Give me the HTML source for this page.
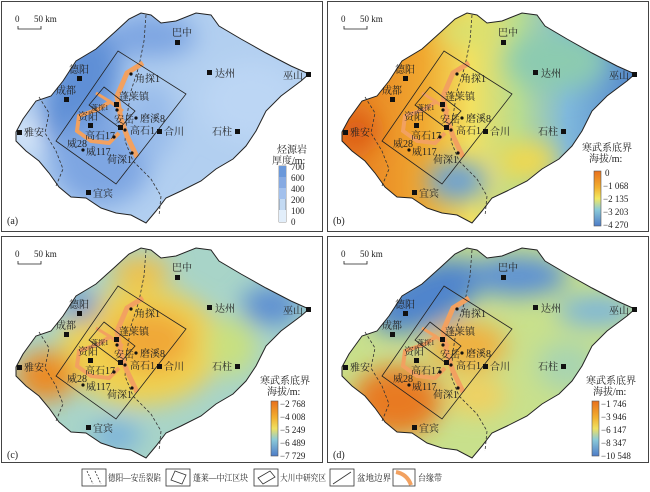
<!DOCTYPE html><html><head><meta charset="utf-8"><style>body{margin:0;background:#fff}svg{display:block}text{font-family:"Liberation Serif","Noto Serif CJK SC",serif;fill:#222}</style></head><body>
<svg width="650" height="492" viewBox="0 0 650 492" xmlns="http://www.w3.org/2000/svg">
<defs>
<path id="basin" d="M15,131 L22,118 L35,100 L50,95 L62,80 L75,60 L95,48 L115,30 L128,18 L140,12 L150,14 L160,22 L175,20 L195,12 L210,14 L218,25 L240,38 L265,52 L290,65 L308,73 L300,80 L280,95 L265,110 L255,130 L245,145 L232,158 L215,168 L200,180 L180,190 L165,197 L155,210 L145,222 L130,214 L115,212 L100,207 L85,197 L70,196 L58,186 L48,172 L38,160 L25,150 L15,140 Z"/>
<clipPath id="cb"><use href="#basin"/></clipPath>
<filter id="bl" x="-50%" y="-50%" width="200%" height="200%"><feGaussianBlur stdDeviation="12"/></filter>
<g id="ov">
<path d="M145,14 L143,40 L138,65 L130,90 L126,115 L124,140 L132,160 L150,178 L160,195 L158,215" fill="none" stroke="#333" stroke-width="0.8" stroke-dasharray="3,2"/>
<path d="M38,96 L48,112 L44,132 L55,150 L62,168 L55,185" fill="none" stroke="#333" stroke-width="0.8" stroke-dasharray="3,2"/>
<path d="M142,62 L126,72 L116,95 L120,118 L126,135 L136,156" fill="none" stroke="#f2a160" stroke-width="5"/>
<path d="M95,92 L108,100 L122,110" fill="none" stroke="#f2a160" stroke-width="3"/>
<path d="M110,100 L98,108 L78,115 L76,130 L90,140 L108,142 L118,132" fill="none" stroke="#f2a160" stroke-width="4"/>
<path d="M117,50 L185,93 L115,183 L55,140 Z" fill="none" stroke="#222" stroke-width="0.8"/>
<path d="M103,86 L134,110 L119,127 L88,104 Z" fill="none" stroke="#222" stroke-width="0.8"/>
<use href="#basin" fill="none" stroke="#222" stroke-width="1"/>
<g fill="#111"><rect x="174" y="39" width="5" height="5"/><rect x="206" y="69" width="5" height="5"/><rect x="305" y="71" width="5" height="5"/><rect x="76" y="75" width="5" height="5"/><rect x="63" y="96" width="5" height="5"/><rect x="16" y="129" width="5" height="5"/><rect x="87" y="122" width="5" height="5"/><rect x="85" y="189" width="5" height="5"/><rect x="156" y="128" width="5" height="5"/><rect x="234" y="128" width="5" height="5"/><rect x="113" y="101" width="5" height="5"/><rect x="117" y="124" width="5" height="5"/>
<circle cx="130" cy="73" r="1.6"/><circle cx="116" cy="109" r="1.6"/><circle cx="135" cy="117" r="1.6"/><circle cx="124" cy="129" r="1.6"/><circle cx="113" cy="136" r="1.6"/><circle cx="82" cy="149" r="1.6"/><circle cx="131" cy="152" r="1.6"/></g>
<path d="M17,25 L17,28 L40,28 L40,25" fill="none" stroke="#222" stroke-width="0.8"/>
</g>
<linearGradient id="gb" x1="0" y1="0" x2="1" y2="0"><stop offset="0" stop-color="#e4701c"/><stop offset="0.3" stop-color="#f0a830"/><stop offset="0.45" stop-color="#f2e060"/><stop offset="0.6" stop-color="#b8dc90"/><stop offset="0.75" stop-color="#7fb8dc"/><stop offset="1" stop-color="#4d80c8"/></linearGradient>
<linearGradient id="cbar1" x1="0" y1="0" x2="0" y2="1"><stop offset="0" stop-color="#e8701c"/><stop offset="0.3" stop-color="#f2b030"/><stop offset="0.5" stop-color="#f2e860"/><stop offset="0.7" stop-color="#8ccbd8"/><stop offset="1" stop-color="#4d7cc8"/></linearGradient>
<linearGradient id="cbar2" x1="0" y1="0" x2="0" y2="1"><stop offset="0" stop-color="#e8701c"/><stop offset="0.3" stop-color="#f2b030"/><stop offset="0.5" stop-color="#f0e060"/><stop offset="0.7" stop-color="#8ccbd8"/><stop offset="1" stop-color="#4d7cc8"/></linearGradient>
</defs>
<rect x="1.5" y="1.5" width="321" height="230" fill="none" stroke="#444"/>
<rect x="327.5" y="1.5" width="321" height="230" fill="none" stroke="#444"/>
<rect x="1.5" y="236.5" width="321" height="226" fill="none" stroke="#444"/>
<rect x="327.5" y="236.5" width="321" height="226" fill="none" stroke="#444"/>

<!-- panel a -->
<g transform="translate(1,1)">
<g clip-path="url(#cb)"><rect width="320" height="230" fill="#b2cff0"/>
<g filter="url(#bl)"><ellipse cx="80" cy="90" rx="35" ry="65" fill="#5f8fd6" transform="rotate(20 80 90)"/><ellipse cx="100" cy="160" rx="50" ry="45" fill="#7ea6e2"/><ellipse cx="150" cy="35" rx="45" ry="22" fill="#7ea6e2"/><ellipse cx="25" cy="135" rx="15" ry="20" fill="#dceafa"/><ellipse cx="150" cy="120" rx="25" ry="40" fill="#98bbea"/><ellipse cx="250" cy="100" rx="50" ry="40" fill="#bcd6f4"/></g></g>
<use href="#ov"/>
<text x="14" y="21" font-size="9">0</text><text x="33" y="21" font-size="9">50 km</text>
<g font-size="10"><text x="171" y="35">巴中</text><text x="214" y="76">达州</text><text x="282" y="78">巫山</text><text x="68" y="72">德阳</text><text x="55" y="93">成都</text><text x="23" y="135">雅安</text><text x="77" y="119">资阳</text><text x="92" y="196">宜宾</text><text x="163" y="134">合川</text><text x="211" y="134">石柱</text><text x="118" y="99">蓬莱镇</text><text x="113" y="122">安岳</text><text x="134" y="81">角探1</text><text x="139" y="121">磨溪8</text><text x="129" y="133">高石1</text><text x="84" y="138">高石17</text><text x="66" y="146">威28</text><text x="85" y="154">威117</text><text x="106" y="162">荷深1</text></g>
<text x="90" y="109" font-size="7">蓬探1</text>
<text x="276" y="152" font-size="10">烃源岩</text><text x="271" y="163" font-size="10">厚度/m:</text>
<rect x="278" y="165" width="7" height="56" fill="#c3daf3" stroke="#555" stroke-width="0.6"/><rect x="278" y="165" width="7" height="11" fill="#6a98da"/><rect x="278" y="176" width="7" height="11" fill="#86aae2"/><rect x="278" y="187" width="7" height="11" fill="#a2c0ec"/><rect x="278" y="209" width="7" height="12" fill="#e2eefa"/>
<g font-size="9"><text x="290" y="169">700</text><text x="290" y="180">600</text><text x="290" y="191">400</text><text x="290" y="202">200</text><text x="290" y="213">100</text><text x="290" y="224">0</text></g>
<text x="6" y="223" font-size="10">(a)</text>
</g>

<!-- panel b -->
<g transform="translate(327,1)">
<g clip-path="url(#cb)"><rect width="320" height="230" fill="url(#gb)"/>
<g filter="url(#bl)"><ellipse cx="200" cy="160" rx="30" ry="20" fill="#f0d850"/><ellipse cx="140" cy="30" rx="30" ry="15" fill="#d8e070"/><ellipse cx="230" cy="60" rx="50" ry="30" fill="#8ccbb0"/><ellipse cx="30" cy="130" rx="20" ry="20" fill="#dc5a14"/><ellipse cx="130" cy="180" rx="30" ry="20" fill="#6aa0d4"/></g></g>
<use href="#ov"/>
<text x="14" y="21" font-size="9">0</text><text x="33" y="21" font-size="9">50 km</text>
<g font-size="10"><text x="171" y="35">巴中</text><text x="214" y="76">达州</text><text x="282" y="78">巫山</text><text x="68" y="72">德阳</text><text x="55" y="93">成都</text><text x="23" y="135">雅安</text><text x="77" y="119">资阳</text><text x="92" y="196">宜宾</text><text x="163" y="134">合川</text><text x="211" y="134">石柱</text><text x="118" y="99">蓬莱镇</text><text x="113" y="122">安岳</text><text x="134" y="81">角探1</text><text x="139" y="121">磨溪8</text><text x="129" y="133">高石1</text><text x="84" y="138">高石17</text><text x="66" y="146">威28</text><text x="85" y="154">威117</text><text x="106" y="162">荷深1</text></g>
<text x="90" y="109" font-size="7">蓬探1</text>
<text x="255" y="150" font-size="10">寒武系底界</text><text x="262" y="161" font-size="10">海拔/m:</text>
<rect x="267" y="170" width="7" height="55" fill="url(#cbar1)" stroke="#555" stroke-width="0.6"/>
<g font-size="9"><text x="278" y="175">0</text><text x="276" y="188">−1 068</text><text x="276" y="201">−2 135</text><text x="276" y="214">−3 203</text><text x="276" y="227">−4 270</text></g>
<text x="6" y="223" font-size="10">(b)</text>
</g>

<!-- panel c -->
<g transform="translate(1,236)">
<g clip-path="url(#cb)"><rect width="320" height="230" fill="#a8d4c8"/>
<g filter="url(#bl)"><ellipse cx="140" cy="110" rx="80" ry="60" fill="#f0d050"/><ellipse cx="150" cy="105" rx="40" ry="30" fill="#f0a838"/><ellipse cx="45" cy="140" rx="30" ry="25" fill="#ec8a22"/><ellipse cx="80" cy="70" rx="18" ry="14" fill="#5a8ed2"/><ellipse cx="270" cy="70" rx="30" ry="20" fill="#5d8fd2"/><ellipse cx="115" cy="200" rx="25" ry="15" fill="#78b0dc"/><ellipse cx="140" cy="35" rx="30" ry="15" fill="#f0c048"/><ellipse cx="230" cy="110" rx="25" ry="30" fill="#c8e080"/></g></g>
<use href="#ov"/>
<text x="14" y="21" font-size="9">0</text><text x="33" y="21" font-size="9">50 km</text>
<g font-size="10"><text x="171" y="35">巴中</text><text x="214" y="76">达州</text><text x="282" y="78">巫山</text><text x="68" y="72">德阳</text><text x="55" y="93">成都</text><text x="23" y="135">雅安</text><text x="77" y="119">资阳</text><text x="92" y="196">宜宾</text><text x="163" y="134">合川</text><text x="211" y="134">石柱</text><text x="118" y="99">蓬莱镇</text><text x="113" y="122">安岳</text><text x="134" y="81">角探1</text><text x="139" y="121">磨溪8</text><text x="129" y="133">高石1</text><text x="84" y="138">高石17</text><text x="66" y="146">威28</text><text x="85" y="154">威117</text><text x="106" y="162">荷深1</text></g>
<text x="90" y="109" font-size="7">蓬探1</text>
<text x="259" y="148" font-size="10">寒武系底界</text><text x="266" y="159" font-size="10">海拔/m:</text>
<rect x="270" y="165" width="7" height="55" fill="url(#cbar2)" stroke="#555" stroke-width="0.6"/>
<g font-size="9"><text x="279" y="171">−2 768</text><text x="279" y="184">−4 008</text><text x="279" y="197">−5 249</text><text x="279" y="210">−6 489</text><text x="279" y="223">−7 729</text></g>
<text x="6" y="222" font-size="10">(c)</text>
</g>

<!-- panel d -->
<g transform="translate(327,236)">
<g clip-path="url(#cb)"><rect width="320" height="230" fill="#c8e08c"/>
<g filter="url(#bl)"><ellipse cx="100" cy="60" rx="60" ry="30" fill="#4f84cc" transform="rotate(-25 100 60)"/><ellipse cx="190" cy="40" rx="50" ry="20" fill="#5c90d4"/><ellipse cx="270" cy="75" rx="40" ry="15" fill="#7ab4dc"/><ellipse cx="70" cy="165" rx="45" ry="35" fill="#e87a22"/><ellipse cx="140" cy="110" rx="40" ry="25" fill="#f0b040"/><ellipse cx="150" cy="160" rx="30" ry="20" fill="#f0d060"/><ellipse cx="240" cy="130" rx="30" ry="25" fill="#a8d4b0"/></g></g>
<use href="#ov"/>
<text x="14" y="21" font-size="9">0</text><text x="33" y="21" font-size="9">50 km</text>
<g font-size="10"><text x="171" y="35">巴中</text><text x="214" y="76">达州</text><text x="282" y="78">巫山</text><text x="68" y="72">德阳</text><text x="55" y="93">成都</text><text x="23" y="135">雅安</text><text x="77" y="119">资阳</text><text x="92" y="196">宜宾</text><text x="163" y="134">合川</text><text x="211" y="134">石柱</text><text x="118" y="99">蓬莱镇</text><text x="113" y="122">安岳</text><text x="134" y="81">角探1</text><text x="139" y="121">磨溪8</text><text x="129" y="133">高石1</text><text x="84" y="138">高石17</text><text x="66" y="146">威28</text><text x="85" y="154">威117</text><text x="106" y="162">荷深1</text></g>
<text x="90" y="109" font-size="7">蓬探1</text>
<text x="259" y="148" font-size="10">寒武系底界</text><text x="266" y="159" font-size="10">海拔/m:</text>
<rect x="265" y="165" width="7" height="55" fill="url(#cbar2)" stroke="#555" stroke-width="0.6"/>
<g font-size="9"><text x="274" y="171">−1 746</text><text x="274" y="184">−3 946</text><text x="274" y="197">−6 147</text><text x="274" y="210">−8 347</text><text x="274" y="223">−10 548</text></g>
<text x="6" y="222" font-size="10">(d)</text>
</g>

<!-- legend -->
<g stroke="#333" stroke-width="0.8" fill="none">
<rect x="82" y="469" width="24" height="17"/><path d="M87,471 L93,484 M95,471 L101,484" stroke-dasharray="2,1.5"/>
<rect x="166" y="469" width="24" height="17"/><path d="M175,471 L186,475 L182,484 L171,480 Z"/>
<rect x="254" y="469" width="24" height="17"/><path d="M258,478 L270,471 L275,477 L263,484 Z"/>
<rect x="330" y="469" width="24" height="17"/><path d="M333,484 L351,472"/>
<rect x="393" y="469" width="22" height="17"/><path d="M396,472 Q407,474 411,485" stroke="#f2a160" stroke-width="4"/>
</g>
<g font-size="9"><text x="108" y="481" textLength="53" lengthAdjust="spacingAndGlyphs">德阳—安岳裂陷</text><text x="193" y="481" textLength="55" lengthAdjust="spacingAndGlyphs">蓬莱—中江区块</text><text x="280" y="481" textLength="46" lengthAdjust="spacingAndGlyphs">大川中研究区</text><text x="357" y="481" textLength="34" lengthAdjust="spacingAndGlyphs">盆地边界</text><text x="418" y="481" textLength="24" lengthAdjust="spacingAndGlyphs">台缘带</text></g>
</svg>
</body></html>
